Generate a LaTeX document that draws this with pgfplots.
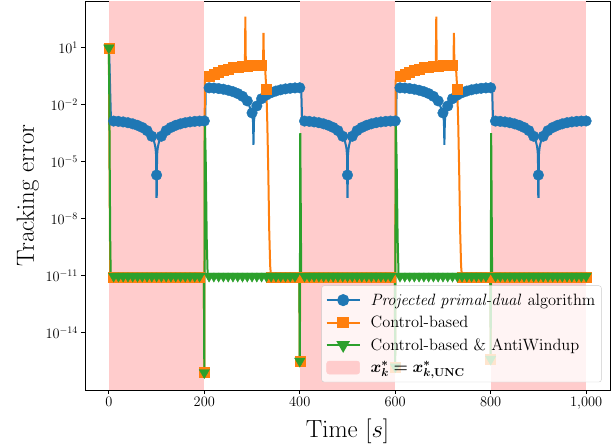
\RequirePackage{fix-cm}
\documentclass[border=0pt]{standalone}
\usepackage[OT1]{fontenc}
\renewcommand{\rmdefault}{cmr}
\usepackage{bm}
\usepackage{pgfplots}
\pgfplotsset{compat=1.18}
\definecolor{c0}{HTML}{1F77B4}
\definecolor{c1}{HTML}{FF7F0E}
\definecolor{c2}{HTML}{2CA02C}
\definecolor{pinkc}{HTML}{FFCCCC}
\begin{document}
\fontencoding{OT1}\fontfamily{cmr}\selectfont
\begin{tikzpicture}
\begin{axis}[
  scale only axis, width=525pt, height=389pt,
  ymode=log, xmin=-50, xmax=1050, ymin=9.5e-18, ymax=2950,
  xtick={0,200,400,600,800,1000},
  ytick={1e-14,1e-11,1e-8,1e-5,1e-2,1e1},
  yminorticks=false,
  tick align=outside, xtick pos=left, ytick pos=left,
  major tick length=3.5pt,
  tick style={line width=0.8pt, black},
  tick label style={font=\fontsize{14.4}{17}\selectfont},
  label style={font=\fontsize{24.8}{29}\selectfont},
  xlabel style={yshift=-3pt},
  xlabel={Time $[s]$}, ylabel={Tracking error},
  axis line style={line width=0.8pt},
  legend style={at={(0.984,0.02)}, anchor=south east,
    font=\fontsize{16.4}{19}\selectfont, fill=white, fill opacity=0.8,
    text opacity=1, draw=black!20, draw opacity=1, rounded corners=2.5pt,
    cells={anchor=west}, row sep=5.6pt, inner xsep=4pt, inner ysep=6pt,
    /tikz/every odd column/.append style={column sep=8pt}},
  legend image code/.code={\draw[mark repeat=2,mark phase=2,#1] plot coordinates {(0pt,0pt) (16.5pt,0pt) (33pt,0pt)};},
]
% shaded spans
\addplot[fill=pinkc, draw=none, forget plot] coordinates {(0,9.5e-18) (200,9.5e-18) (200,2950) (0,2950)} -- cycle;
\addplot[fill=pinkc, draw=none, forget plot] coordinates {(400,9.5e-18) (600,9.5e-18) (600,2950) (400,2950)} -- cycle;
\addplot[fill=pinkc, draw=none, forget plot] coordinates {(800,9.5e-18) (1000,9.5e-18) (1000,2950) (800,2950)} -- cycle;

% blue line
\addplot[c0, line width=2pt, no marks, forget plot] coordinates {
(0,10) (1,3.16) (2,0.316) (3,0.0316) (4,4.0e-3) (5,1.41e-3)
(10,1.396e-3) (20,1.344e-3) (30,1.259e-3) (40,1.143e-3) (50,9.99e-4) (60,8.31e-4) (70,6.42e-4) (80,4.37e-4) (90,2.21e-4) (95,1.11e-4) (97,6.66e-5) (98,4.44e-5) (99,2.22e-5) (99.7,1.26e-7) (100,2.0e-6) (100.3,1.26e-7) (101,2.22e-5) (102,4.44e-5) (103,6.66e-5) (105,1.11e-4) (110,2.21e-4) (120,4.37e-4) (130,6.42e-4) (140,8.31e-4) (150,9.99e-4) (160,1.143e-3) (170,1.259e-3) (180,1.344e-3) (190,1.396e-3) (200,1.413e-3) (202,1.413e-3)
(203,0.0794) (210,0.0789) (220,0.0766) (230,0.0724) (240,0.0664) (250,0.0587) (260,0.0496) (270,0.0393) (280,0.0281) (290,0.0161) (300,0.00374) (301,0.00249) (302,0.00125) (303,7.9e-5) (304,0.00125) (305,0.00249) (306,0.00374) (310,0.00871) (320,0.0210) (330,0.0327) (340,0.0436) (350,0.0534) (360,0.0620) (370,0.0690) (380,0.0743) (390,0.0778) (400,0.0793) (403,0.0794) (404,0.01) (405,1.41e-3)
(410,1.396e-3) (420,1.344e-3) (430,1.259e-3) (440,1.143e-3) (450,9.99e-4) (460,8.31e-4) (470,6.42e-4) (480,4.37e-4) (490,2.21e-4) (495,1.11e-4) (497,6.66e-5) (498,4.44e-5) (499,2.22e-5) (499.7,1.26e-7) (500,2.0e-6) (500.3,1.26e-7) (501,2.22e-5) (502,4.44e-5) (503,6.66e-5) (505,1.11e-4) (510,2.21e-4) (520,4.37e-4) (530,6.42e-4) (540,8.31e-4) (550,9.99e-4) (560,1.143e-3) (570,1.259e-3) (580,1.344e-3) (590,1.396e-3) (600,1.413e-3) (602,1.413e-3)
(603,0.0794) (610,0.0789) (620,0.0766) (630,0.0724) (640,0.0664) (650,0.0587) (660,0.0496) (670,0.0393) (680,0.0281) (690,0.0161) (700,0.00374) (701,0.00249) (702,0.00125) (703,7.9e-5) (704,0.00125) (705,0.00249) (706,0.00374) (710,0.00871) (720,0.0210) (730,0.0327) (740,0.0436) (750,0.0534) (760,0.0620) (770,0.0690) (780,0.0743) (790,0.0778) (800,0.0793) (803,0.0794) (804,0.01) (805,1.41e-3)
(810,1.396e-3) (820,1.344e-3) (830,1.259e-3) (840,1.143e-3) (850,9.99e-4) (860,8.31e-4) (870,6.42e-4) (880,4.37e-4) (890,2.21e-4) (895,1.11e-4) (897,6.66e-5) (898,4.44e-5) (899,2.22e-5) (899.7,1.26e-7) (900,2.0e-6) (900.3,1.26e-7) (901,2.22e-5) (902,4.44e-5) (903,6.66e-5) (905,1.11e-4) (910,2.21e-4) (920,4.37e-4) (930,6.42e-4) (940,8.31e-4) (950,9.99e-4) (960,1.143e-3) (970,1.259e-3) (980,1.344e-3) (990,1.396e-3) (1000,1.413e-3)
};
% blue marks
\addplot[only marks, mark=*, mark size=5.3pt, mark options={fill=c0, draw=c0}, forget plot] coordinates {
(10,1.396e-3) (20,1.344e-3) (30,1.259e-3) (40,1.143e-3) (50,9.99e-4) (60,8.31e-4) (70,6.42e-4) (80,4.37e-4) (90,2.21e-4) (100,2.0e-6) (110,2.21e-4) (120,4.37e-4) (130,6.42e-4) (140,8.31e-4) (150,9.99e-4) (160,1.143e-3) (170,1.259e-3) (180,1.344e-3) (190,1.396e-3) (200,1.413e-3)
(210,0.0789) (220,0.0766) (230,0.0724) (240,0.0664) (250,0.0587) (260,0.0496) (270,0.0393) (280,0.0281) (290,0.0161) (300,0.00374) (310,0.00871) (320,0.0210) (330,0.0327) (340,0.0436) (350,0.0534) (360,0.0620) (370,0.0690) (380,0.0743) (390,0.0778) (400,0.0793)
(410,1.396e-3) (420,1.344e-3) (430,1.259e-3) (440,1.143e-3) (450,9.99e-4) (460,8.31e-4) (470,6.42e-4) (480,4.37e-4) (490,2.21e-4) (500,2.0e-6) (510,2.21e-4) (520,4.37e-4) (530,6.42e-4) (540,8.31e-4) (550,9.99e-4) (560,1.143e-3) (570,1.259e-3) (580,1.344e-3) (590,1.396e-3) (600,1.413e-3)
(610,0.0789) (620,0.0766) (630,0.0724) (640,0.0664) (650,0.0587) (660,0.0496) (670,0.0393) (680,0.0281) (690,0.0161) (700,0.00374) (710,0.00871) (720,0.0210) (730,0.0327) (740,0.0436) (750,0.0534) (760,0.0620) (770,0.0690) (780,0.0743) (790,0.0778) (800,0.0793)
(810,1.396e-3) (820,1.344e-3) (830,1.259e-3) (840,1.143e-3) (850,9.99e-4) (860,8.31e-4) (870,6.42e-4) (880,4.37e-4) (890,2.21e-4) (900,2.0e-6) (910,2.21e-4) (920,4.37e-4) (930,6.42e-4) (940,8.31e-4) (950,9.99e-4) (960,1.143e-3) (970,1.259e-3) (980,1.344e-3) (990,1.396e-3) (1000,1.413e-3)
};

% orange line
\addplot[c1, line width=2pt, no marks, forget plot] coordinates {
(0,10) (1,1e-4) (2,1e-8) (3,7.9e-12) (199,7.9e-12) (200,7.9e-17) (201,0.2) (210,0.316) (220,0.427) (230,0.55) (240,0.676) (250,0.794) (260,0.912) (270,1.0) (280,1.096) (285,1.12) (286,447) (287,1.12) (290,1.148) (300,1.175) (310,1.2) (320,1.2) (323,1.2) (324,61.7) (325,1.2) (327,1.2) (330,0.063) (332,1e-3) (334,3.2e-6) (336,2.5e-9) (338,3.2e-11) (340,7.9e-12) (399,7.9e-12) (400,3.16e-16) (401,7.9e-12) (599,7.9e-12) (600,1.58e-16) (601,0.2) (610,0.316) (620,0.427) (630,0.55) (640,0.676) (650,0.794) (660,0.912) (670,1.0) (680,1.096) (685,1.12) (686,447) (687,1.12) (690,1.148) (700,1.175) (710,1.2) (720,1.2) (722,1.2) (723,61.7) (724,1.2) (727,1.2) (730,0.063) (732,1e-3) (734,3.2e-6) (736,2.5e-9) (738,3.2e-11) (740,7.9e-12) (799,7.9e-12) (800,4e-16) (801,7.9e-12) (1000,7.9e-12)
};
% orange marks
\addplot[only marks, mark=square*, mark size=5pt, mark options={fill=c1, draw=c1}, forget plot] coordinates {
(0,10) (10,7.9e-12) (20,7.9e-12) (30,7.9e-12) (40,7.9e-12) (50,7.9e-12) (60,7.9e-12) (70,7.9e-12) (80,7.9e-12) (90,7.9e-12) (100,7.9e-12) (110,7.9e-12) (120,7.9e-12) (130,7.9e-12) (140,7.9e-12) (150,7.9e-12) (160,7.9e-12) (170,7.9e-12) (180,7.9e-12) (190,7.9e-12)
(200,7.9e-17) (210,0.316) (220,0.427) (230,0.55) (240,0.676) (250,0.794) (260,0.912) (270,1.0) (280,1.096) (290,1.148) (300,1.175) (310,1.2) (320,1.2) (330,0.063) (340,7.9e-12) (350,7.9e-12) (360,7.9e-12) (370,7.9e-12) (380,7.9e-12) (390,7.9e-12)
(400,3.16e-16) (410,7.9e-12) (420,7.9e-12) (430,7.9e-12) (440,7.9e-12) (450,7.9e-12) (460,7.9e-12) (470,7.9e-12) (480,7.9e-12) (490,7.9e-12) (500,7.9e-12) (510,7.9e-12) (520,7.9e-12) (530,7.9e-12) (540,7.9e-12) (550,7.9e-12) (560,7.9e-12) (570,7.9e-12) (580,7.9e-12) (590,7.9e-12)
(600,1.58e-16) (610,0.316) (620,0.427) (630,0.55) (640,0.676) (650,0.794) (660,0.912) (670,1.0) (680,1.096) (690,1.148) (700,1.175) (710,1.2) (720,1.2) (730,0.063) (740,7.9e-12) (750,7.9e-12) (760,7.9e-12) (770,7.9e-12) (780,7.9e-12) (790,7.9e-12)
(800,4e-16) (810,7.9e-12) (820,7.9e-12) (830,7.9e-12) (840,7.9e-12) (850,7.9e-12) (860,7.9e-12) (870,7.9e-12) (880,7.9e-12) (890,7.9e-12) (900,7.9e-12) (910,7.9e-12) (920,7.9e-12) (930,7.9e-12) (940,7.9e-12) (950,7.9e-12) (960,7.9e-12) (970,7.9e-12) (980,7.9e-12) (990,7.9e-12) (1000,7.9e-12)
};

% green line
\addplot[c2, line width=2pt, no marks, forget plot] coordinates {
(0,10) (1,1e-2) (2,1e-6) (3,3e-10) (4,9.5e-12) (199,9.5e-12) (200,7.9e-17) (201,2.5e-3) (203,1e-5) (205,1e-9) (207,9.5e-12) (399,9.5e-12) (400,3.16e-16) (401,3.2e-4) (402,1e-7) (403,9.5e-12) (599,9.5e-12) (600,1.58e-16) (601,2.5e-3) (603,1e-5) (605,1e-9) (607,9.5e-12) (799,9.5e-12) (800,4e-16) (801,3.2e-4) (802,1e-7) (803,9.5e-12) (1000,9.5e-12)
};
% green marks
\addplot[only marks, mark=triangle*, mark size=6pt, mark options={fill=c2, draw=c2, rotate=180}, forget plot] coordinates {
(0,10) (10,9.5e-12) (20,9.5e-12) (30,9.5e-12) (40,9.5e-12) (50,9.5e-12) (60,9.5e-12) (70,9.5e-12) (80,9.5e-12) (90,9.5e-12) (100,9.5e-12) (110,9.5e-12) (120,9.5e-12) (130,9.5e-12) (140,9.5e-12) (150,9.5e-12) (160,9.5e-12) (170,9.5e-12) (180,9.5e-12) (190,9.5e-12)
(200,7.9e-17) (210,9.5e-12) (220,9.5e-12) (230,9.5e-12) (240,9.5e-12) (250,9.5e-12) (260,9.5e-12) (270,9.5e-12) (280,9.5e-12) (290,9.5e-12) (300,9.5e-12) (310,9.5e-12) (320,9.5e-12) (330,9.5e-12) (340,9.5e-12) (350,9.5e-12) (360,9.5e-12) (370,9.5e-12) (380,9.5e-12) (390,9.5e-12)
(400,3.16e-16) (410,9.5e-12) (420,9.5e-12) (430,9.5e-12) (440,9.5e-12) (450,9.5e-12) (460,9.5e-12) (470,9.5e-12) (480,9.5e-12) (490,9.5e-12) (500,9.5e-12) (510,9.5e-12) (520,9.5e-12) (530,9.5e-12) (540,9.5e-12) (550,9.5e-12) (560,9.5e-12) (570,9.5e-12) (580,9.5e-12) (590,9.5e-12)
(600,1.58e-16) (610,9.5e-12) (620,9.5e-12) (630,9.5e-12) (640,9.5e-12) (650,9.5e-12) (660,9.5e-12) (670,9.5e-12) (680,9.5e-12) (690,9.5e-12) (700,9.5e-12) (710,9.5e-12) (720,9.5e-12) (730,9.5e-12) (740,9.5e-12) (750,9.5e-12) (760,9.5e-12) (770,9.5e-12) (780,9.5e-12) (790,9.5e-12)
(800,4e-16) (810,9.5e-12) (820,9.5e-12) (830,9.5e-12) (840,9.5e-12) (850,9.5e-12) (860,9.5e-12) (870,9.5e-12) (880,9.5e-12) (890,9.5e-12) (900,9.5e-12) (910,9.5e-12) (920,9.5e-12) (930,9.5e-12) (940,9.5e-12) (950,9.5e-12) (960,9.5e-12) (970,9.5e-12) (980,9.5e-12) (990,9.5e-12) (1000,9.5e-12)
};

\addlegendimage{c0, line width=2pt, mark=*, mark size=5pt, mark options={fill=c0, draw=c0, fill opacity=1}}
\addlegendentry{\textit{Projected primal-dual} algorithm}
\addlegendimage{c1, line width=2pt, mark=square*, mark size=4.7pt, mark options={fill=c1, draw=c1, fill opacity=1}}
\addlegendentry{Control-based}
\addlegendimage{c2, line width=2pt, mark=triangle*, mark size=5.8pt, mark options={fill=c2, draw=c2, rotate=180, fill opacity=1}}
\addlegendentry{Control-based \& AntiWindup}
\addlegendimage{legend image code/.code={\fill[pinkc, fill opacity=1] (0pt,-6.5pt) rectangle (33pt,6.5pt);}}
\addlegendentry{$\bm{x_k^* = x_{k,\mathrm{UNC}}^*}$}
\end{axis}
\path (-85pt,-56pt) rectangle (528pt,390pt);
\end{tikzpicture}
\end{document}
